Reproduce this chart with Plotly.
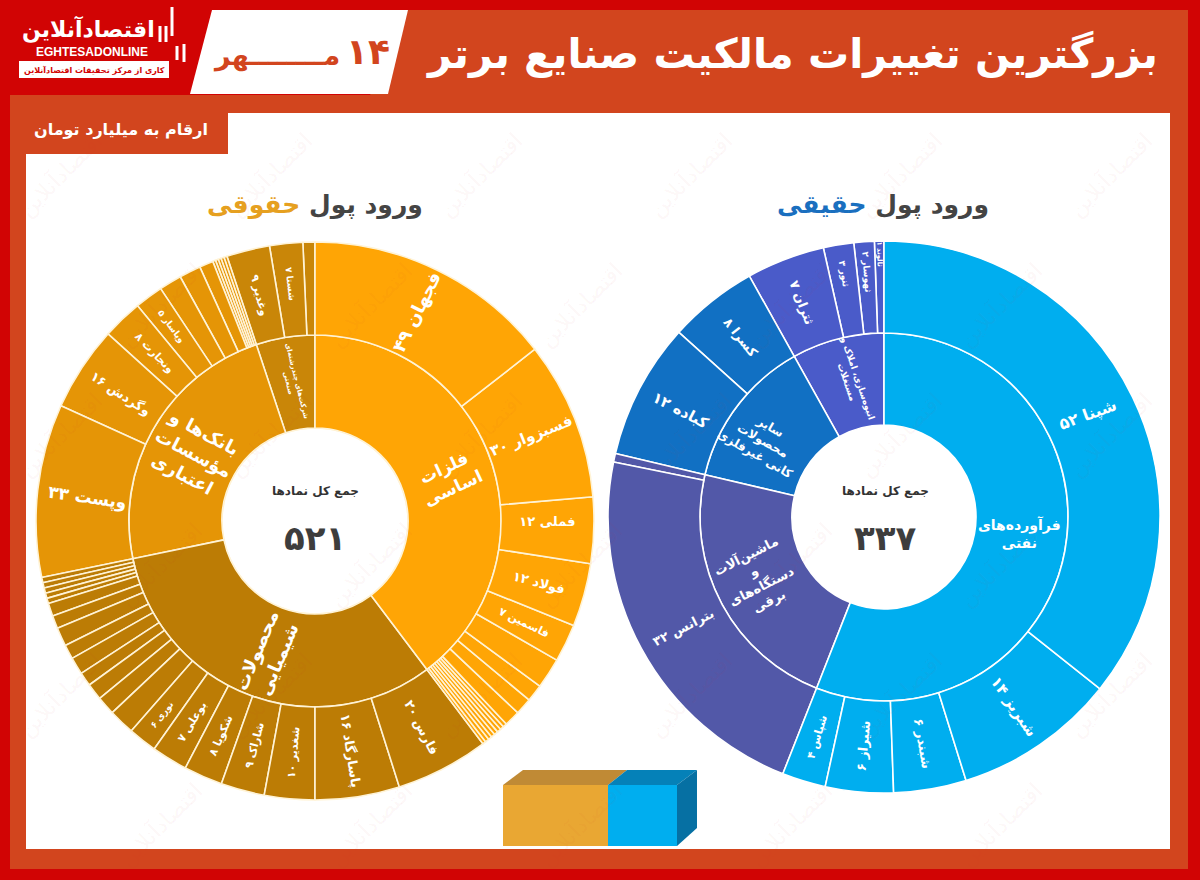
import plotly.graph_objects as go

W, H = 1200, 880
FONT = "DejaVu Sans"

# ---------- data: real-investor inflow (right chart) ----------
real_total_label = "۳۳۷"
real_groups = ["فرآورده‌های نفتی", "ماشین‌آلات و دستگاه‌های برقی", "سایر محصولات کانی غیرفلزی", "انبوه‌سازی، املاک و مستغلات"]
real_group_colors = ["#00AEEF", "#5258A8", "#1170C3", "#4A5BC9"]
real_oil_labels = ["", "شبریز ۱۴", "شبندر ۶", "شیراز ۶", "شپاس ۴"]
real_oil_sizes = [128.5, 34.2, 15.3, 14.3, 9.2]
real_machine_labels = ["", ""]
real_machine_sizes = [80, 1.8]
real_mineral_labels = ["کباده ۱۲", "کسرا ۸"]
real_mineral_sizes = [28.7, 18.8]
real_estate_labels = ["ثتران ۷", "ثنور ۳", "ثهوسار ۲", "ثالوند ۱"]
real_estate_sizes = [16.5, 6.4, 4.3, 2.0]

# ---------- data: legal-investor inflow (left chart) ----------
legal_total_label = "۵۲۱"
legal_groups = ["فلزات اساسی", "محصولات شیمیایی", "بانک‌ها و مؤسسات اعتباری", "شرکت‌های چندرشته‌ای صنعتی"]
legal_group_colors = ["#FFA505", "#BC7C05", "#E59506", "#C98608"]
legal_metal_labels = ["فجهان ۴۹", "فسبزوار ۳۰", "فملی ۱۲", "فولاد ۱۲", "فاسمین ۷"] + [""] * 12
legal_metal_sizes = [52, 33, 13.8, 13.2, 7.9, 6.4, 3.6, 3.5, 3.3, 0.8, 0.8, 0.8, 0.8, 0.8, 0.8, 0.8, 0.7]
legal_chem_labels = ["فارس ۲۰", "پاسارگاد ۱۶", "شغدیر ۱۰", "شاراک ۹", "شکویا ۸", "بوعلی ۷", "نوری ۶"] + [""] * 14
legal_chem_sizes = [19.4, 17.6, 10.5, 9.1, 8.1, 7.5, 6.0, 5.4, 3.9, 3.5, 2.9, 3.6, 3.0, 3.9, 2.7, 2.7, 1.1, 1.1, 1.1, 1.1, 1.1]
legal_bank_labels = ["", "وگردش ۱۶", "ونجارت ۸", "وپاسار ۵"] + [""] * 8
legal_bank_sizes = [36.1, 17.7, 8.4, 5.9, 4.7, 4.5, 2.9, 0.6, 0.6, 0.6, 0.65, 0.65]
legal_hold_labels = ["وغدیر ۹", "شستا ۷", ""]
legal_hold_sizes = [9.0, 6.9, 2.5]

title_text = "بزرگترین تغییرات مالکیت صنایع برتر"
unit_text = "ارقام به میلیارد تومان"
center_caption = "جمع کل نمادها"


def px(x):
    return x / W


def py(y):
    return 1 - y / H


def leaf_font(size):
    return 18 if size > 45 else 15 if size > 25 else 13 if size > 12 else 11 if size > 7 else 9


def sunburst(groups, colors, labels, sizes, cx, cy, r, line_color):
    # plotly lays sectors counter-clockwise from the rotation angle, so feed them reversed
    ids, parents, values, texts, cols, fonts = ["root"], [""], [0], [""], ["#ffffff"], [10]
    for g in reversed(range(len(groups))):
        col = colors[g]
        ids.append(f"g{g}"); parents.append("root"); values.append(0)
        texts.append(""); cols.append(col); fonts.append(10)
        for i in reversed(range(len(sizes[g]))):
            lab, size = labels[g][i], sizes[g][i]
            ids.append(f"g{g}c{i}"); parents.append(f"g{g}"); values.append(size)
            texts.append(f"<b>{lab}</b>" if lab else ""); cols.append(col); fonts.append(leaf_font(size))
    return go.Sunburst(
        ids=ids, labels=ids, parents=parents, values=values, text=texts,
        textinfo="text", branchvalues="remainder", sort=False, rotation=90,
        insidetextorientation="radial", leaf=dict(opacity=1),
        marker=dict(colors=cols, line=dict(color=line_color, width=1.6)),
        insidetextfont=dict(family=FONT, color="white", size=fonts),
        hoverinfo="skip",
        domain=dict(x=[px(cx - r), px(cx + r)], y=[py(cy + r), py(cy - r)]),
    )


fig = go.Figure()
fig.add_trace(sunburst(real_groups, real_group_colors,
                       [real_oil_labels, real_machine_labels, real_mineral_labels, real_estate_labels],
                       [real_oil_sizes, real_machine_sizes, real_mineral_sizes, real_estate_sizes],
                       884, 517, 276, "#ffffff"))
fig.add_trace(sunburst(legal_groups, legal_group_colors,
                       [legal_metal_labels, legal_chem_labels, legal_bank_labels, legal_hold_labels],
                       [legal_metal_sizes, legal_chem_sizes, legal_bank_sizes, legal_hold_sizes],
                       315, 521, 279, "#FFF3D6"))

shapes = []


def rect(x0, y0, x1, y1, color):
    shapes.append(dict(type="rect", xref="paper", yref="paper", x0=px(x0), x1=px(x1), y0=py(y1), y1=py(y0),
                       fillcolor=color, line=dict(width=0), layer="below"))


def poly(points, color):
    d = "M" + " L".join(f"{px(x):.5f},{py(y):.5f}" for x, y in points) + " Z"
    shapes.append(dict(type="path", xref="paper", yref="paper", path=d, fillcolor=color,
                       line=dict(width=0), layer="below"))


rect(0, 0, 1200, 880, "#D10404")
rect(10, 95, 1188, 869, "#D2451E")
poly([(390, 10), (1188, 10), (1188, 96), (370, 96)], "#D2451E")
rect(26, 113, 1170, 849, "#FFFFFF")
rect(26, 113, 228, 154, "#D2451E")
poly([(212, 10), (408, 10), (388, 94), (190, 94)], "#FFFFFF")
# logo
rect(19, 61, 169, 78, "#FFFFFF")
for x, y0, y1 in [(172, 7, 36), (166, 26, 42), (160, 26, 42), (184, 44, 62), (177, 46, 60)]:
    rect(x - 1.5, y0, x + 1.5, y1, "#FFFFFF")
# cube
poly([(503, 785), (523, 770), (627, 770), (608, 785)], "#C08A35")
poly([(608, 785), (627, 770), (697, 770), (677, 785)], "#0581B8")
poly([(677, 785), (697, 770), (697, 828), (677, 846)], "#0670A3")
rect(503, 785, 608, 846, "#E9A733")
rect(608, 785, 677, 846, "#00AEEF")

ann = []


def note(x, y, text, size, color="white", angle=0, bold=True, family=FONT):
    if bold:
        text = "<b>" + text.replace("<br>", "</b><br><b>") + "</b>"
    ann.append(dict(x=px(x), y=py(y), xref="paper", yref="paper", text=text, showarrow=False,
                    font=dict(family=family, size=size, color=color), textangle=angle,
                    xanchor="center", yanchor="middle", align="center"))


# faint watermark
for row, y in enumerate(range(175, 840, 130)):
    for x in range(60 + 100 * (row % 2), 1170, 210):
        note(x, y, "اقتصادآنلاین", 22, "rgba(214,50,50,0.055)", -45, False)

note(792, 54, title_text, 41)
note(368, 52, "۱۴", 36, "#D2451E")
note(276, 56, "مــــــــهر", 27, "#D2451E")
note(88, 29, "اقتصادآنلاین", 22)
note(92, 52, "EGHTESADONLINE", 12, family="Liberation Sans")
note(94, 70, "کاری از مرکز تحقیقات اقتصادآنلاین", 8, "#D10404")
note(121, 129, unit_text, 16)

note(883, 205, 'ورود پول <span style="color:#1A6FBF">حقیقی</span>', 25, "#444444")
note(315, 205, 'ورود پول <span style="color:#E6A020">حقوقی</span>', 25, "#444444")
note(885, 491, center_caption, 12, "#333333")
note(315, 491, center_caption, 12, "#333333")
note(885, 538, real_total_label, 34, "#3d3d3d")
note(315, 538, legal_total_label, 34, "#3d3d3d")

# outer labels of the widest sectors, placed off the sector midline as in the picture
note(1088, 415, "شپنا ۵۲", 16, angle=-20)
note(683, 627, "بترانس ۳۲", 13, angle=-27)
note(87, 497, "وپست ۳۳", 17, angle=8)

# inner-ring labels
note(1019, 533, "فرآورده‌های<br>نفتی", 14)
note(757, 578, "ماشین‌آلات<br>و<br>دستگاه‌های<br>برقی", 13, angle=-27)
note(763, 440, "سایر<br>محصولات<br>کانی غیرفلزی", 12, angle=30)
note(852, 380, "انبوه‌سازی، املاک و<br>مستغلات", 9, angle=71)
note(448, 478, "فلزات<br>اساسی", 17, angle=-25)
note(193, 453, "بانک‌ها و<br>مؤسسات<br>اعتباری", 18, angle=28)
note(267, 655, "محصولات<br>شیمیایی", 18, angle=-67)
note(293, 382, "شرکت‌های چندرشته‌ای<br>صنعتی", 7, angle=76)

fig.update_layout(width=W, height=H, margin=dict(l=0, r=0, t=0, b=0), paper_bgcolor="#D10404",
                  shapes=shapes, annotations=ann, showlegend=False)
fig.write_html("out.html", config=dict(displayModeBar=False),
               post_script="document.body.style.margin='0';document.body.style.overflow='hidden';")
